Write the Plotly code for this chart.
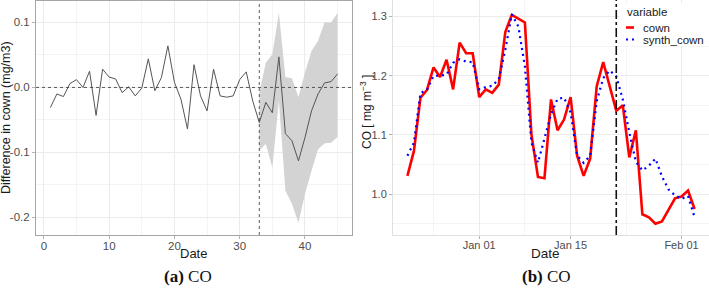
import plotly.graph_objects as go
import pandas as pd

# ---- Panel (a): difference series ----
t_index = list(range(1, 46))
diff_values = [-0.031, -0.010, -0.014, 0.006, 0.012, 0.000, 0.025, -0.043, 0.028, 0.016,
               0.013, -0.008, 0.001, -0.013, -0.001, 0.044, -0.005, 0.015, 0.064, 0.008,
               -0.018, -0.064, 0.035, -0.013, -0.036, 0.028, -0.013, -0.015, -0.013, 0.012,
               0.024, -0.021, -0.054, -0.023, -0.039, 0.047, -0.071, -0.082, -0.113, -0.077,
               -0.036, -0.010, 0.007, 0.009, 0.021]
ribbon_t = list(range(33, 46))
ribbon_upper = [-0.008, 0.038, 0.051, 0.115, 0.016, 0.014, -0.015, 0.023, 0.056, 0.072, 0.100, 0.100, 0.115]
ribbon_lower = [-0.097, -0.087, -0.123, -0.020, -0.159, -0.179, -0.208, -0.164, -0.128, -0.095, -0.086, -0.085, -0.076]
intervention_t = 33
left_xticks = [0, 10, 20, 30, 40]
left_yticks = [-0.2, -0.1, 0.0, 0.1]
left_ytext = ["-0.2", "-0.1", "0.0", "0.1"]

# ---- Panel (b): observed vs synthetic ----
dates = pd.date_range("2019-12-21", periods=45, freq="D")
cown = [1.031, 1.073, 1.163, 1.176, 1.214, 1.198, 1.227, 1.177, 1.256, 1.238,
        1.238, 1.164, 1.177, 1.171, 1.185, 1.274, 1.303, 1.297, 1.290, 1.101,
        1.029, 1.027, 1.160, 1.108, 1.126, 1.164, 1.065, 1.031, 1.060, 1.182,
        1.223, 1.182, 1.141, 1.150, 1.062, 1.108, 0.966, 0.961, 0.950, 0.954,
        0.973, 0.993, 0.996, 1.006, 0.975]
synth_cown = [1.065, 1.087, 1.171, 1.176, 1.200, 1.200, 1.202, 1.222, 1.228, 1.224,
              1.223, 1.177, 1.181, 1.183, 1.194, 1.244, 1.304, 1.283, 1.216, 1.087,
              1.053, 1.096, 1.135, 1.161, 1.163, 1.138, 1.065, 1.053, 1.065, 1.157,
              1.196, 1.209, 1.199, 1.160, 1.104, 1.055, 1.040, 1.048, 1.060, 1.030,
              1.008, 0.998, 0.992, 0.997, 0.961]
series_names = ["cown", "synth_cown"]
series_colors = ["#ff0000", "#0000ff"]
intervention_date = "2020-01-22"
right_xtick_vals = ["2020-01-01", "2020-01-15", "2020-02-01"]
right_xtick_text = ["Jan 01", "Jan 15", "Feb 01"]
right_xminor = ["2019-12-25", "2020-01-08", "2020-01-23 12:00"]
right_yticks = [1.0, 1.1, 1.2, 1.3]

W, H = 709, 291
def px(x):
    return x / W
def py(y):
    return 1 - y / H

FONT = "Liberation Sans, Arial, sans-serif"
TICKC = "#4d4d4d"
GRID = "#ebebeb"
MINOR = "#f4f4f4"

fig = go.Figure()

# ribbon
fig.add_trace(go.Scatter(x=ribbon_t, y=ribbon_upper, mode="lines", line=dict(width=0),
                         showlegend=False, hoverinfo="skip", xaxis="x", yaxis="y"))
fig.add_trace(go.Scatter(x=ribbon_t, y=ribbon_lower, mode="lines", line=dict(width=0),
                         fill="tonexty", fillcolor="#d3d3d3", showlegend=False,
                         hoverinfo="skip", xaxis="x", yaxis="y"))
fig.add_trace(go.Scatter(x=t_index, y=diff_values, mode="lines",
                         line=dict(color="#555555", width=1), showlegend=False,
                         xaxis="x", yaxis="y"))

# right panel
DOT = "2px,4px"
fig.add_trace(go.Scatter(x=dates, y=cown, mode="lines", name=series_names[0],
                         line=dict(color=series_colors[0], width=2.6), xaxis="x2", yaxis="y2"))
fig.add_trace(go.Scatter(x=dates, y=synth_cown, mode="lines", name=series_names[1],
                         line=dict(color=series_colors[1], width=2.2, dash=DOT), xaxis="x2", yaxis="y2"))

xd1 = [px(36), px(352)]
xd2 = [px(393), 1.0]
yd = [py(235), py(1)]

axis_common = dict(showline=True, ticks="outside", ticklen=3,
                   tickcolor="#b3b3b3",
                   gridcolor=GRID, gridwidth=1, zeroline=False)

fig.update_layout(
    width=W, height=H, margin=dict(l=0, r=0, t=0, b=0, autoexpand=False),
    paper_bgcolor="white", plot_bgcolor="white", showlegend=False,
    xaxis=dict(domain=xd1, range=[-1.2, 47.2], tickvals=left_xticks,
               tickfont=dict(family=FONT, size=11.5, color=TICKC), ticklabelstandoff=-3,
               minor=dict(dtick=5, tick0=5, showgrid=True, gridcolor=MINOR, ticks=""),
               linecolor="#a6a6a6", anchor="y", mirror=True, **axis_common),
    yaxis=dict(domain=yd, range=[-0.227, 0.133], tickvals=left_yticks, ticktext=left_ytext,
               tickfont=dict(family=FONT, size=11.5, color=TICKC),
               minor=dict(tickvals=[-0.25, -0.15, -0.05, 0.05, 0.15], showgrid=True, gridcolor=MINOR, ticks=""),
               linecolor="#a6a6a6", anchor="x", mirror=True, **axis_common),
    xaxis2=dict(domain=xd2, type="date", range=["2019-12-18 19:00", "2020-02-05 05:00"],
                tickvals=right_xtick_vals, ticktext=right_xtick_text,
                tickfont=dict(family=FONT, size=11, color=TICKC), ticklabelstandoff=-3,
                minor=dict(tickvals=right_xminor, showgrid=True, gridcolor=MINOR, ticks=""),
                linecolor="#e0e0e0", anchor="y2", **axis_common),
    yaxis2=dict(domain=[py(235), 1.0], range=[0.931, 1.328], tickvals=right_yticks,
                ticktext=["1.0", "1.1", "1.2", "1.3"],
                tickfont=dict(family=FONT, size=11, color=TICKC),
                minor=dict(tickvals=[0.95, 1.05, 1.15, 1.25], showgrid=True, gridcolor=MINOR, ticks=""),
                linecolor="#e0e0e0", anchor="x2", **axis_common),
)

# reference lines
fig.add_shape(type="line", xref="x domain", yref="y", x0=0, x1=1, y0=0, y1=0,
              line=dict(color="#333333", width=0.8, dash="3px,3px"))
fig.add_shape(type="line", xref="x", yref="y domain", x0=intervention_t, x1=intervention_t, y0=0, y1=1,
              line=dict(color="#333333", width=0.8, dash="3px,3px"))
fig.add_shape(type="line", xref="x2", yref="y2 domain", x0=intervention_date, x1=intervention_date,
              y0=0, y1=1, line=dict(color="#111111", width=1.6, dash="dashdot"))

# manual legend (ggplot-style compact keys)
fig.add_shape(type="rect", xref="paper", yref="paper", x0=px(620), x1=1.0, y0=py(46), y1=py(3),
              fillcolor="white", line=dict(width=0), layer="above")
fig.add_shape(type="line", xref="paper", yref="paper", x0=px(626), x1=px(634), y0=py(27.5), y1=py(27.5),
              line=dict(color=series_colors[0], width=2.6), layer="above")
fig.add_shape(type="line", xref="paper", yref="paper", x0=px(626), x1=px(636), y0=py(39.5), y1=py(39.5),
              line=dict(color=series_colors[1], width=2.2, dash=DOT), layer="above")

annots = [
    dict(text="variable", x=px(625), y=py(12), xanchor="left",
         font=dict(family=FONT, size=11.5, color="#1a1a1a")),
    dict(text=series_names[0], x=px(641), y=py(28), xanchor="left",
         font=dict(family=FONT, size=11.5, color="#1a1a1a")),
    dict(text=series_names[1], x=px(641), y=py(40), xanchor="left",
         font=dict(family=FONT, size=11.5, color="#1a1a1a")),
    dict(text="Difference in cown (mg/m3)", x=px(6), y=py(118), textangle=-90,
         font=dict(family=FONT, size=12.5, color="#1a1a1a")),
    dict(text="Date", x=px(193), y=py(253), font=dict(family=FONT, size=13, color="#1a1a1a")),
    dict(text="CO [ mg m<sup>−3</sup> ]", x=px(366), y=py(112), textangle=-90,
         font=dict(family=FONT, size=12, color="#1a1a1a")),
    dict(text="Date", x=px(545), y=py(253), font=dict(family=FONT, size=13.5, color="#1a1a1a")),
    dict(text="<b>(a)</b> CO", x=px(188), y=py(276),
         font=dict(family="Liberation Serif, Times New Roman, serif", size=17, color="#111111")),
    dict(text="<b>(b)</b> CO", x=px(546), y=py(276),
         font=dict(family="Liberation Serif, Times New Roman, serif", size=17, color="#111111")),
]
for a in annots:
    a.setdefault("xanchor", "center")
    fig.add_annotation(xref="paper", yref="paper", showarrow=False,
                       yanchor="middle", **a)

fig.write_html("out.html", config={"displayModeBar": False},
               post_script="document.body.style.margin='0';document.body.style.overflow='hidden';")
